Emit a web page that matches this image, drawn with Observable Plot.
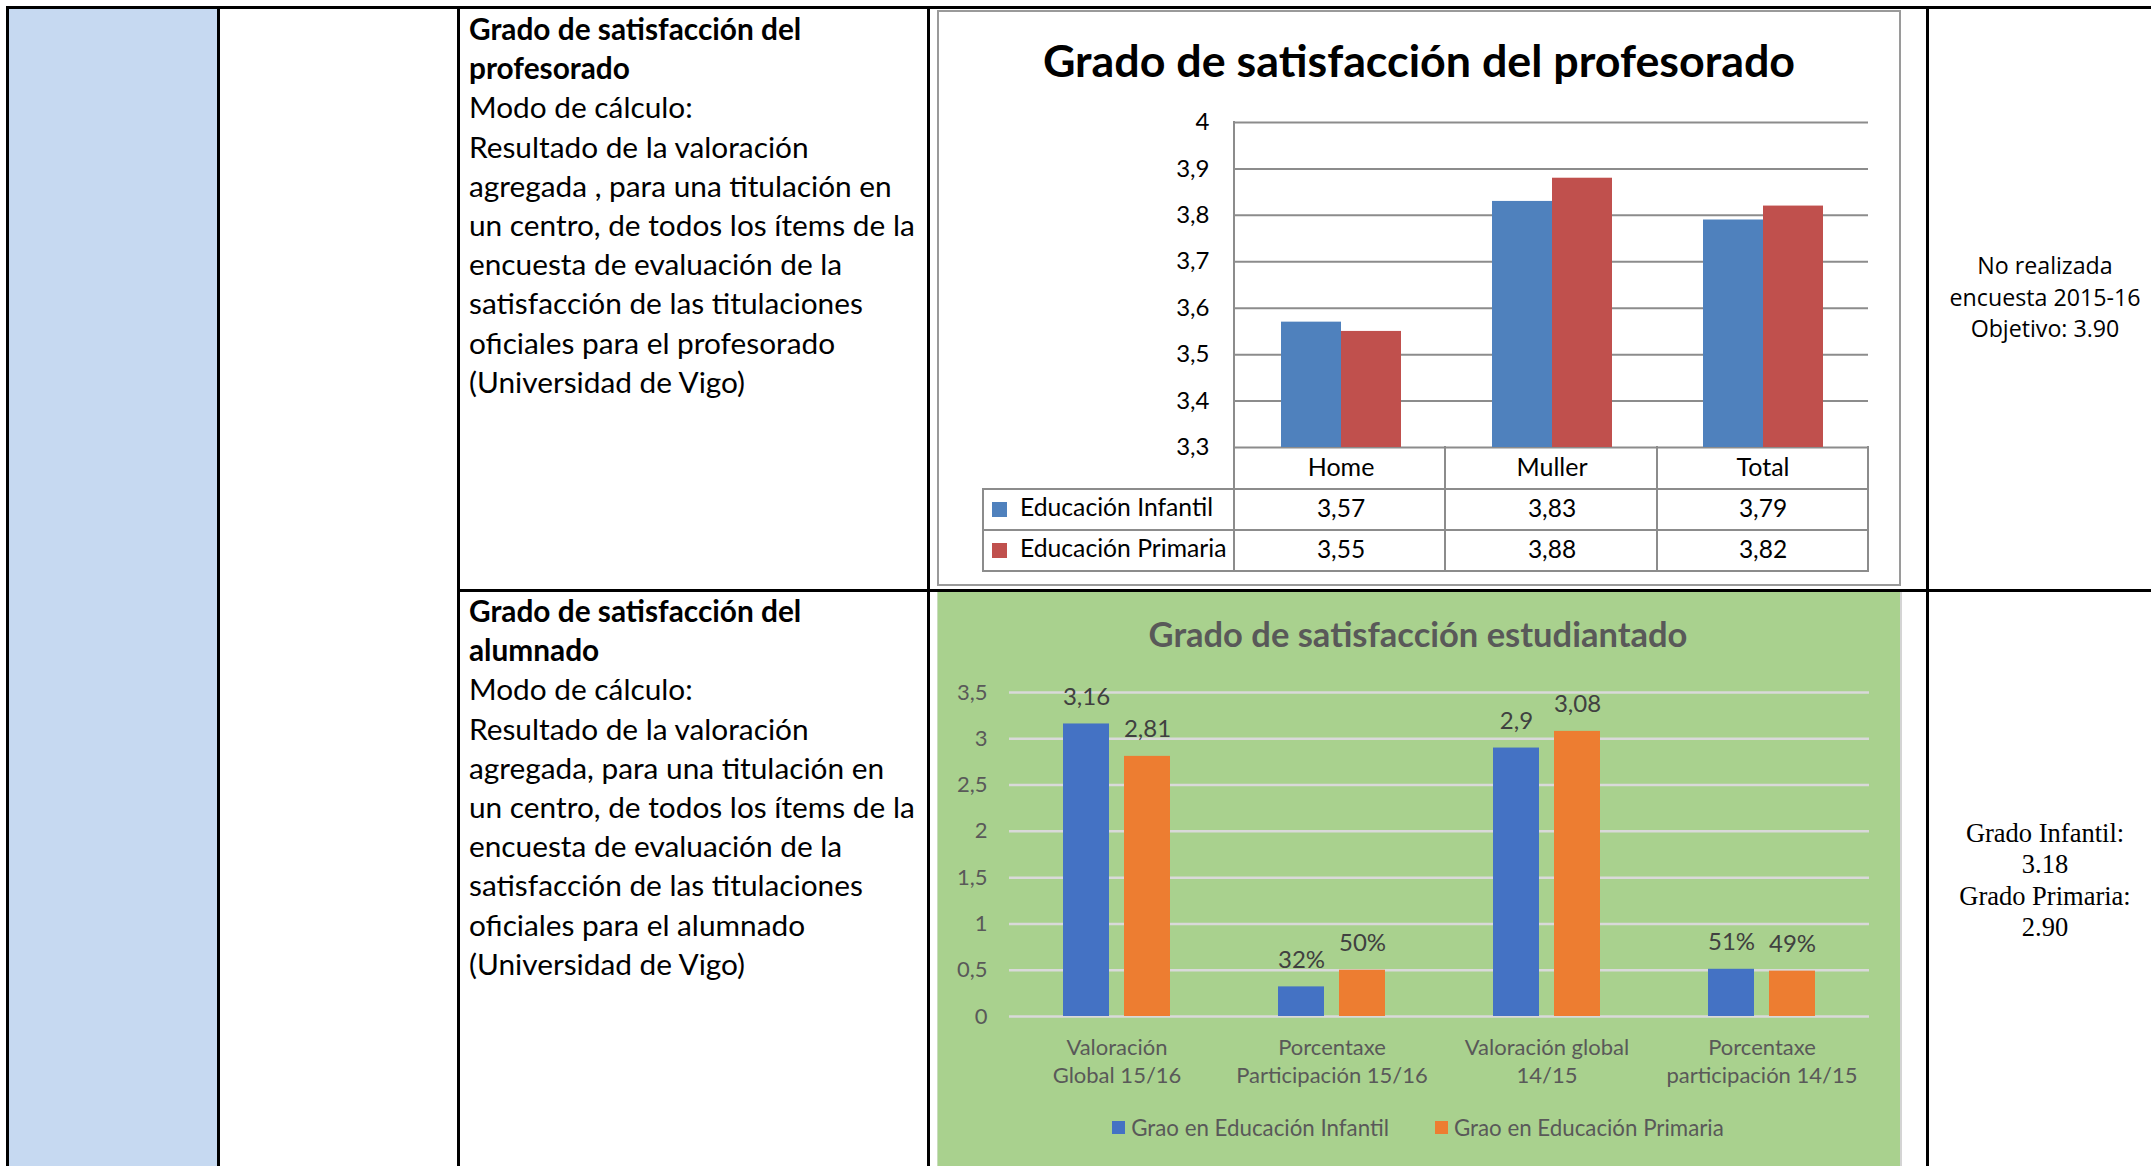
<!DOCTYPE html>
<html>
<head>
<meta charset="utf-8">
<script src="https://cdn.jsdelivr.net/npm/d3@7"></script>
<script src="https://cdn.jsdelivr.net/npm/@observablehq/plot@0.6"></script>
<style>
  html, body { margin: 0; padding: 0; }
  body { width: 2151px; height: 1166px; overflow: hidden; position: relative; background: #fff; font-family: Lato, "Open Sans", sans-serif; }
  .abs { position: absolute; }
  .line { position: absolute; background: #000; }
  .gline { position: absolute; background: #8c8c8c; }
  .txt { position: absolute; left: 469px; font-size: 29.8px; line-height: 39.2px; color: #000; white-space: pre; }
  .txt b { font-weight: 700; }
  .chart1 { position: absolute; left: 937px; top: 10px; width: 960px; height: 572px; border: 2px solid #9a9a9a; background: #fff; box-sizing: content-box; }
  .chart2 { position: absolute; left: 937px; top: 592px; width: 962px; height: 600px; background: #A9D18E; border-right: 2px solid #d4d4d4; border-left: 1px solid #c9dcbc; }
  .plotwrap svg { display: block; }
</style>
</head>
<body>
<script>
// ---------- Data: chart 1 (profesorado) ----------
const categories1 = ["Home", "Muller", "Total"];
const series1 = ["Educación Infantil", "Educación Primaria"];
const infantil1 = [3.57, 3.83, 3.79];
const primaria1 = [3.55, 3.88, 3.82];
const yTicks1 = [3.3, 3.4, 3.5, 3.6, 3.7, 3.8, 3.9, 4];
const colors1 = ["#4F81BD", "#C0504D"];
const title1 = "Grado de satisfacción del profesorado";

// ---------- Data: chart 2 (alumnado) ----------
const categories2 = ["Valoración\nGlobal 15/16", "Porcentaxe\nParticipación 15/16", "Valoración global\n14/15", "Porcentaxe\nparticipación 14/15"];
const series2 = ["Grao en Educación Infantil", "Grao en Educación Primaria"];
const infantil2 = [3.16, 0.32, 2.9, 0.51];
const primaria2 = [2.81, 0.50, 3.08, 0.49];
const labelsInfantil2 = ["3,16", "32%", "2,9", "51%"];
const labelsPrimaria2 = ["2,81", "50%", "3,08", "49%"];
const yTicks2 = [0, 0.5, 1, 1.5, 2, 2.5, 3, 3.5];
const colors2 = ["#4472C4", "#ED7D31"];
const title2 = "Grado de satisfacción estudiantado";

// ---------- Table texts ----------
const textBlock1 = [
  ["Grado de satisfacción del", true], ["profesorado", true], ["Modo de cálculo:", false],
  ["Resultado de la valoración", false], ["agregada , para una titulación en", false],
  ["un centro, de todos los ítems de la", false], ["encuesta de evaluación de la", false],
  ["satisfacción de las titulaciones", false], ["oficiales para el profesorado", false],
  ["(Universidad de Vigo)", false]
];
const textBlock2 = [
  ["Grado de satisfacción del", true], ["alumnado", true], ["Modo de cálculo:", false],
  ["Resultado de la valoración", false], ["agregada, para una titulación en", false],
  ["un centro, de todos los ítems de la", false], ["encuesta de evaluación de la", false],
  ["satisfacción de las titulaciones", false], ["oficiales para el alumnado", false],
  ["(Universidad de Vigo)", false]
];
const rightText1 = ["No realizada", "encuesta 2015-16", "Objetivo: 3.90"];
const rightText2 = ["Grado Infantil:", "3.18", "Grado Primaria:", "2.90"];

const fmt = d => String(+(+d).toFixed(2)).replace(".", ",");

function el(tag, cls, style, html) {
  const e = document.createElement(tag);
  if (cls) e.className = cls;
  if (style) e.setAttribute("style", style);
  if (html != null) e.innerHTML = html;
  document.body.appendChild(e);
  return e;
}

// ---------- Table skeleton ----------
el("div", "abs", "left:9px;top:9px;width:208px;height:1200px;background:#C6D9F1;");
el("div", "line", "left:6px;top:6px;width:2151px;height:3px;");
el("div", "line", "left:6px;top:6px;width:3px;height:1200px;");
el("div", "line", "left:217px;top:6px;width:3px;height:1200px;");
el("div", "line", "left:457px;top:6px;width:3px;height:1200px;");
el("div", "line", "left:927px;top:6px;width:3px;height:1200px;");
el("div", "line", "left:1926px;top:6px;width:3px;height:1200px;");
el("div", "line", "left:457px;top:589px;width:1700px;height:3px;");

// Left text blocks
function block(lines, top) {
  const html = lines.map(([t, b]) => b ? `<b>${t}</b>` : t).join("\n");
  el("div", "txt", `top:${top}px;`, html);
}
block(textBlock1, 9);
block(textBlock2, 591);

// Right texts
el("div", "abs", "left:1929px;width:232px;top:250px;text-align:center;font-family:'Open Sans';font-size:23.2px;line-height:31.5px;white-space:pre;color:#000;", rightText1.join("\n"));
el("div", "abs", "left:1929px;width:232px;top:818px;text-align:center;font-family:'Liberation Serif';font-size:26.5px;line-height:31.3px;white-space:pre;color:#000;", rightText2.join("\n"));

// ---------- Chart 1 ----------
el("div", "chart1");
el("div", "abs", "left:937px;width:964px;top:30px;text-align:center;font-weight:700;font-size:44.8px;line-height:60px;color:#000;", title1);

const data1 = categories1.flatMap((c, i) => [
  {cat: c, s: series1[0], v: infantil1[i]},
  {cat: c, s: series1[1], v: primaria1[i]}
]);

const plot1 = Plot.plot({
  width: 962, height: 574,
  marginLeft: 297, marginRight: 31, marginTop: 112, marginBottom: 137,
  style: {background: "transparent", fontFamily: "Lato", color: "#000", overflow: "visible"},
  fx: {domain: categories1, padding: 0, label: null},
  x: {domain: series1, paddingInner: 0, paddingOuter: 0.75, axis: null},
  y: {domain: [yTicks1[0], yTicks1[yTicks1.length - 1]], label: null},
  color: {domain: series1, range: colors1},
  marks: [
    Plot.gridY(yTicks1, {stroke: "#8c8c8c", strokeOpacity: 1, strokeWidth: 2}),
    Plot.barY(data1, {fx: "cat", x: "s", y1: yTicks1[0], y2: "v", fill: "s"}),
    Plot.axisY(yTicks1, {tickSize: 0, tickPadding: 26, fontSize: 24, tickFormat: fmt, label: null}),
    Plot.axisFx({anchor: "bottom", tickSize: 0, tickPadding: 11, fontSize: 25, label: null}),
    Plot.text(data1.filter(d => d.s === series1[0]), {fx: "cat", text: d => fmt(d.v), frameAnchor: "bottom", dy: 69.5, fontSize: 24.5, fill: "#000"}),
    Plot.text(data1.filter(d => d.s === series1[1]), {fx: "cat", text: d => fmt(d.v), frameAnchor: "bottom", dy: 110.5, fontSize: 24.5, fill: "#000"})
  ]
});
const w1 = el("div", "abs plotwrap", "left:937px;top:10px;");
w1.appendChild(plot1);

// data-table grid lines for chart 1 (layout only)
const tL = 983, pL = 1234, pR = 1868, yTop = 121.7, yAx = 447, rowYs = [489, 530, 571];
const colW = (pR - pL) / categories1.length;
rowYs.forEach(y => el("div", "gline", `left:${tL}px;top:${y - 1}px;width:${pR - tL + 1}px;height:2px;`));
el("div", "gline", `left:${tL - 1}px;top:${rowYs[0] - 1}px;width:2px;height:${rowYs[2] - rowYs[0] + 2}px;`);
el("div", "gline", `left:${pL - 1}px;top:${yTop - 1}px;width:2px;height:${rowYs[2] - yTop + 2}px;`);
for (let i = 1; i <= categories1.length; i++) {
  el("div", "gline", `left:${pL + colW * i - 1}px;top:${yAx - 1}px;width:2px;height:${rowYs[2] - yAx + 2}px;`);
}
series1.forEach((s, i) => {
  const yc = (rowYs[i] + rowYs[i + 1]) / 2;
  el("div", "abs", `left:992px;top:${yc - 7.5}px;width:15px;height:15px;background:${colors1[i]};`);
  el("div", "abs", `left:1020px;top:${yc - 23}px;height:40px;line-height:40px;font-size:24.7px;color:#000;white-space:nowrap;`, s);
});

// ---------- Chart 2 ----------
el("div", "chart2");
el("div", "abs", "left:937px;width:962px;top:613px;text-align:center;font-weight:700;font-size:34.5px;line-height:42px;color:#595959;", title2);

const data2 = categories2.flatMap((c, i) => [
  {cat: c, s: series2[0], v: infantil2[i], label: labelsInfantil2[i]},
  {cat: c, s: series2[1], v: primaria2[i], label: labelsPrimaria2[i]}
]);

const plot2 = Plot.plot({
  width: 962, height: 574,
  marginLeft: 70, marginRight: 29, marginTop: 100, marginBottom: 150,
  style: {background: "transparent", fontFamily: "Lato", color: "#595959", overflow: "visible"},
  fx: {domain: categories2, padding: 0, label: null},
  x: {domain: series2, paddingInner: 0.242, paddingOuter: 0.861, axis: null},
  y: {domain: [yTicks2[0], yTicks2[yTicks2.length - 1]], label: null},
  color: {domain: series2, range: colors2},
  marks: [
    Plot.gridY(yTicks2, {stroke: "#D9D9D9", strokeOpacity: 1, strokeWidth: 2.5}),
    Plot.barY(data2, {fx: "cat", x: "s", y: "v", fill: "s"}),
    Plot.text(data2, {fx: "cat", x: "s", y: "v", text: "label", dy: -27, fontSize: 24, fill: "#404040"}),
    Plot.axisY(yTicks2, {tickSize: 0, tickPadding: 22, fontSize: 22, tickFormat: fmt, label: null}),
    Plot.axisFx({anchor: "bottom", tickSize: 0, tickPadding: 18, fontSize: 22, lineHeight: 1.3, label: null})
  ]
});
const w2 = el("div", "abs plotwrap", "left:937px;top:592px;");
w2.appendChild(plot2);

// legend for chart 2
const leg = el("div", "abs", "left:937px;width:962px;top:1107px;height:40px;display:flex;justify-content:center;align-items:center;font-size:22.3px;color:#595959;white-space:nowrap;");
series2.forEach((s, i) => {
  const item = document.createElement("span");
  item.setAttribute("style", `display:inline-flex;align-items:center;margin:0 ${i === 0 ? 23 : 0}px 0 ${i === 1 ? 23 : 0}px;`);
  item.innerHTML = `<span style="display:inline-block;width:13px;height:13px;background:${colors2[i]};margin-right:6px;"></span>${s}`;
  leg.appendChild(item);
});
</script>
</body>
</html>
